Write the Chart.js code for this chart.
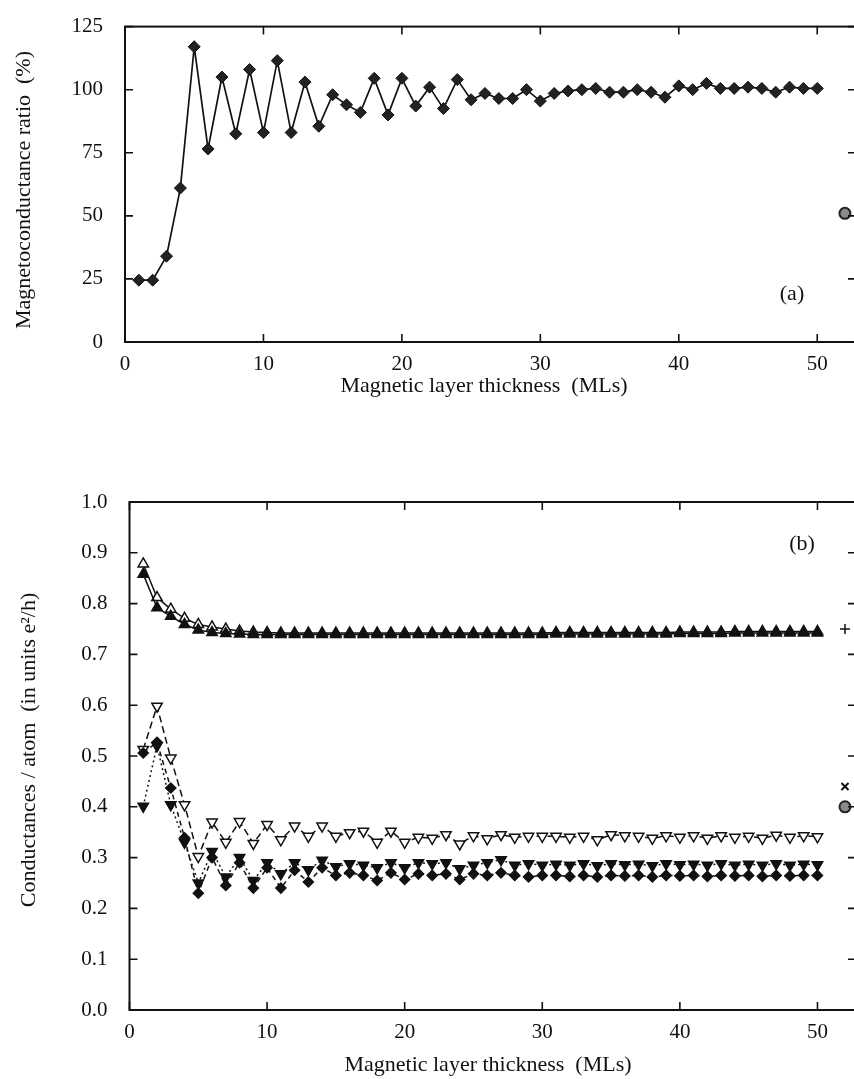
<!DOCTYPE html>
<html>
<head>
<meta charset="utf-8">
<title>Magnetoconductance ratio and conductances</title>
<script src="https://cdn.jsdelivr.net/npm/chart.js@4.4.1/dist/chart.umd.min.js"></script>
<style>
  html, body { margin: 0; padding: 0; background: #fff; overflow: hidden; }
  #page { position: relative; width: 854px; height: 1079px; overflow: hidden; }
  canvas { position: absolute; left: 0; }
  #chartA { top: 0; }
  #chartB { top: 460px; }
</style>
</head>
<body>
<div id="page">
  <canvas id="chartA" width="880" height="420"></canvas>
  <canvas id="chartB" width="880" height="619"></canvas>
</div>
<script>
// magnetic layer thickness (MLs)
const layers = [1, 2, 3, 4, 5, 6, 7, 8, 9, 10, 11, 12, 13, 14, 15, 16, 17, 18, 19, 20,
  21, 22, 23, 24, 25, 26, 27, 28, 29, 30, 31, 32, 33, 34, 35, 36, 37, 38, 39, 40,
  41, 42, 43, 44, 45, 46, 47, 48, 49, 50];

// (a) magnetoconductance ratio (%)
const ratio = [24.5, 24.5, 34, 61, 117, 76.5, 105, 82.5, 108, 83,
  111.5, 83, 103, 85.5, 98, 94, 91, 104.5, 90, 104.5,
  93.5, 101, 92.5, 104, 96, 98.5, 96.5, 96.5, 100, 95.5,
  98.5, 99.5, 100, 100.5, 99, 99, 100, 99, 97, 101.5,
  100, 102.5, 100.5, 100.5, 101, 100.5, 99, 101, 100.5, 100.5];
const ratioBulk = [{ x: 52, y: 51 }];

// (b) conductances / atom (e^2/h)
const openUp = [0.878, 0.812, 0.789, 0.771, 0.759, 0.754, 0.750, 0.746, 0.744, 0.743,
  0.742, 0.742, 0.742, 0.742, 0.742, 0.742, 0.742, 0.742, 0.742, 0.742,
  0.742, 0.742, 0.742, 0.742, 0.742, 0.742, 0.742, 0.742, 0.742, 0.742,
  0.743, 0.743, 0.743, 0.743, 0.743, 0.743, 0.743, 0.743, 0.743, 0.744,
  0.744, 0.744, 0.744, 0.745, 0.745, 0.745, 0.745, 0.745, 0.745, 0.745];
const filledUp = [0.858, 0.792, 0.775, 0.759, 0.748, 0.743, 0.741, 0.740, 0.739, 0.739,
  0.739, 0.739, 0.739, 0.739, 0.739, 0.739, 0.739, 0.739, 0.739, 0.739,
  0.739, 0.739, 0.739, 0.739, 0.739, 0.739, 0.739, 0.739, 0.739, 0.739,
  0.740, 0.740, 0.740, 0.740, 0.740, 0.740, 0.740, 0.740, 0.740, 0.741,
  0.741, 0.741, 0.741, 0.742, 0.742, 0.742, 0.742, 0.742, 0.742, 0.742];
const openDown = [0.513, 0.598, 0.496, 0.404, 0.302, 0.370, 0.330, 0.371, 0.328, 0.365,
  0.335, 0.362, 0.342, 0.362, 0.342, 0.349, 0.352, 0.330, 0.352, 0.330,
  0.340, 0.338, 0.345, 0.327, 0.343, 0.337, 0.345, 0.340, 0.342, 0.342,
  0.342, 0.340, 0.342, 0.335, 0.345, 0.343, 0.342, 0.338, 0.343, 0.340,
  0.343, 0.338, 0.343, 0.340, 0.342, 0.338, 0.344, 0.340, 0.343, 0.341];
const filledDiamond = [0.506, 0.527, 0.437, 0.339, 0.230, 0.300, 0.245, 0.290, 0.240, 0.280,
  0.240, 0.275, 0.252, 0.280, 0.265, 0.270, 0.265, 0.255, 0.270, 0.257,
  0.268, 0.265, 0.268, 0.257, 0.268, 0.265, 0.270, 0.265, 0.262, 0.265,
  0.265, 0.263, 0.265, 0.262, 0.265, 0.264, 0.265, 0.262, 0.265, 0.264,
  0.265, 0.263, 0.265, 0.264, 0.265, 0.263, 0.265, 0.264, 0.265, 0.265];
const filledDown = [0.401, 0.520, 0.404, 0.330, 0.250, 0.312, 0.262, 0.300, 0.255, 0.290,
  0.268, 0.290, 0.276, 0.295, 0.282, 0.288, 0.285, 0.280, 0.290, 0.280,
  0.290, 0.288, 0.290, 0.278, 0.285, 0.290, 0.296, 0.285, 0.288, 0.285,
  0.287, 0.285, 0.288, 0.284, 0.288, 0.286, 0.287, 0.284, 0.288, 0.286,
  0.287, 0.285, 0.288, 0.285, 0.287, 0.285, 0.288, 0.285, 0.287, 0.286];
const bulkPlus = [{ x: 52, y: 0.75 }];
const bulkCross = [{ x: 52, y: 0.44 }];
const bulkCircle = [{ x: 52, y: 0.40 }];

// tick labels
const xTicks = [0, 10, 20, 30, 40, 50];
const ratioTicks = [0, 25, 50, 75, 100, 125];
const condTicks = [0, 0.1, 0.2, 0.3, 0.4, 0.5, 0.6, 0.7, 0.8, 0.9, 1.0];

const INK = '#111';
const SERIF = "'Liberation Serif', 'Times New Roman', serif";
Chart.defaults.font.family = SERIF;
Chart.defaults.color = INK;

const toPoints = ys => layers.map((x, i) => ({ x, y: ys[i] }));

// box round the plot with ticks pointing inwards, plus free text (titles, panel letter)
const framePlugin = {
  id: 'frame',
  afterDatasetsDraw(chart, args, opts) {
    const { ctx, chartArea: a, scales: { x, y } } = chart;
    const len = 8;
    ctx.save();
    ctx.strokeStyle = INK;
    ctx.lineWidth = 2;
    ctx.strokeRect(a.left, a.top, a.right - a.left, a.bottom - a.top);
    ctx.lineWidth = 1.6;
    ctx.beginPath();
    x.ticks.forEach(t => {
      const px = x.getPixelForValue(t.value);
      ctx.moveTo(px, a.bottom); ctx.lineTo(px, a.bottom - len);
      ctx.moveTo(px, a.top); ctx.lineTo(px, a.top + len);
    });
    y.ticks.forEach(t => {
      const py = y.getPixelForValue(t.value);
      ctx.moveTo(a.left, py); ctx.lineTo(a.left + len, py);
      ctx.moveTo(a.right, py); ctx.lineTo(a.right - len, py);
    });
    ctx.stroke();

    ctx.fillStyle = INK;
    ctx.textBaseline = 'middle';
    ctx.textAlign = 'center';
    ctx.font = `22px ${SERIF}`;
    ctx.fillText(opts.xTitle.text, opts.xTitle.x, opts.xTitle.y);
    ctx.fillText(opts.tag.text, opts.tag.x, opts.tag.y);
    ctx.translate(opts.yTitle.x, opts.yTitle.y);
    ctx.rotate(-Math.PI / 2);
    ctx.fillText(opts.yTitle.text, 0, 0);
    ctx.restore();
  }
};

const baseScales = (yMin, yMax, yTickList, yFmt, yWidth, xHeight) => ({
  x: {
    type: 'linear', min: 0, max: 52.8,
    grid: { display: false }, border: { display: false },
    afterBuildTicks: s => { s.ticks = xTicks.map(v => ({ value: v })); },
    afterFit: s => { s.height = xHeight; },
    ticks: { font: { size: 21 }, padding: 2, maxRotation: 0, autoSkip: false }
  },
  y: {
    type: 'linear', min: yMin, max: yMax,
    grid: { display: false }, border: { display: false },
    afterBuildTicks: s => { s.ticks = yTickList.map(v => ({ value: v })); },
    afterFit: s => { s.width = yWidth; },
    ticks: { font: { size: 21 }, padding: 14, autoSkip: false, callback: yFmt }
  }
});

new Chart(document.getElementById('chartA'), {
  type: 'line',
  data: {
    datasets: [
      {
        data: toPoints(ratio),
        borderColor: INK, borderWidth: 1.7,
        pointStyle: 'rectRot', pointRadius: 6,
        pointBackgroundColor: '#222', pointBorderColor: INK, pointBorderWidth: 1
      },
      {
        data: ratioBulk, showLine: false,
        pointStyle: 'circle', pointRadius: 5.5,
        pointBackgroundColor: '#8a8a8a', pointBorderColor: '#222', pointBorderWidth: 2
      }
    ]
  },
  options: {
    responsive: false, animation: false, devicePixelRatio: 1,
    layout: { padding: { top: 19, right: 24, left: 0, bottom: 0 } },
    plugins: {
      legend: { display: false }, tooltip: { enabled: false },
      frame: {
        xTitle: { text: 'Magnetic layer thickness  (MLs)', x: 484, y: 386 },
        yTitle: { text: 'Magnetoconductance ratio  (%)', x: 24, y: 190 },
        tag: { text: '(a)', x: 792, y: 294 }
      }
    },
    scales: baseScales(0, 125, ratioTicks, v => v, 125, 78)
  },
  plugins: [framePlugin]
});

const lineSet = (ys, style, fill, dash, rotation) => ({
  data: toPoints(ys),
  borderColor: INK, borderWidth: 1.5, borderDash: dash,
  pointStyle: style, pointRotation: rotation || 0,
  pointRadius: style === 'rectRot' ? 5 : 6,
  pointBackgroundColor: fill, pointBorderColor: INK, pointBorderWidth: 1.5
});

new Chart(document.getElementById('chartB'), {
  type: 'line',
  data: {
    datasets: [
      lineSet(filledUp, 'triangle', INK, []),
      lineSet(openUp, 'triangle', '#fff', []),
      lineSet(filledDown, 'triangle', INK, [2, 3], 180),
      lineSet(filledDiamond, 'rectRot', INK, [5, 4]),
      lineSet(openDown, 'triangle', '#fff', [7, 4], 180),
      {
        data: bulkPlus, showLine: false,
        pointStyle: 'cross', pointRadius: 5, pointBorderColor: INK, pointBorderWidth: 1.5
      },
      {
        data: bulkCross, showLine: false,
        pointStyle: 'crossRot', pointRadius: 5, pointBorderColor: INK, pointBorderWidth: 2
      },
      {
        data: bulkCircle, showLine: false,
        pointStyle: 'circle', pointRadius: 5.5,
        pointBackgroundColor: '#8a8a8a', pointBorderColor: '#222', pointBorderWidth: 2
      }
    ]
  },
  options: {
    responsive: false, animation: false, devicePixelRatio: 1,
    layout: { padding: { top: 42, right: 24, left: 0, bottom: 0 } },
    plugins: {
      legend: { display: false }, tooltip: { enabled: false },
      frame: {
        xTitle: { text: 'Magnetic layer thickness  (MLs)', x: 488, y: 605 },
        yTitle: { text: 'Conductances / atom  (in units e\u00b2/h)', x: 29, y: 290 },
        tag: { text: '(b)', x: 802, y: 84 }
      }
    },
    scales: baseScales(0, 1, condTicks, v => Number(v).toFixed(1), 129.5, 69)
  },
  plugins: [framePlugin]
});
</script>
</body>
</html>
